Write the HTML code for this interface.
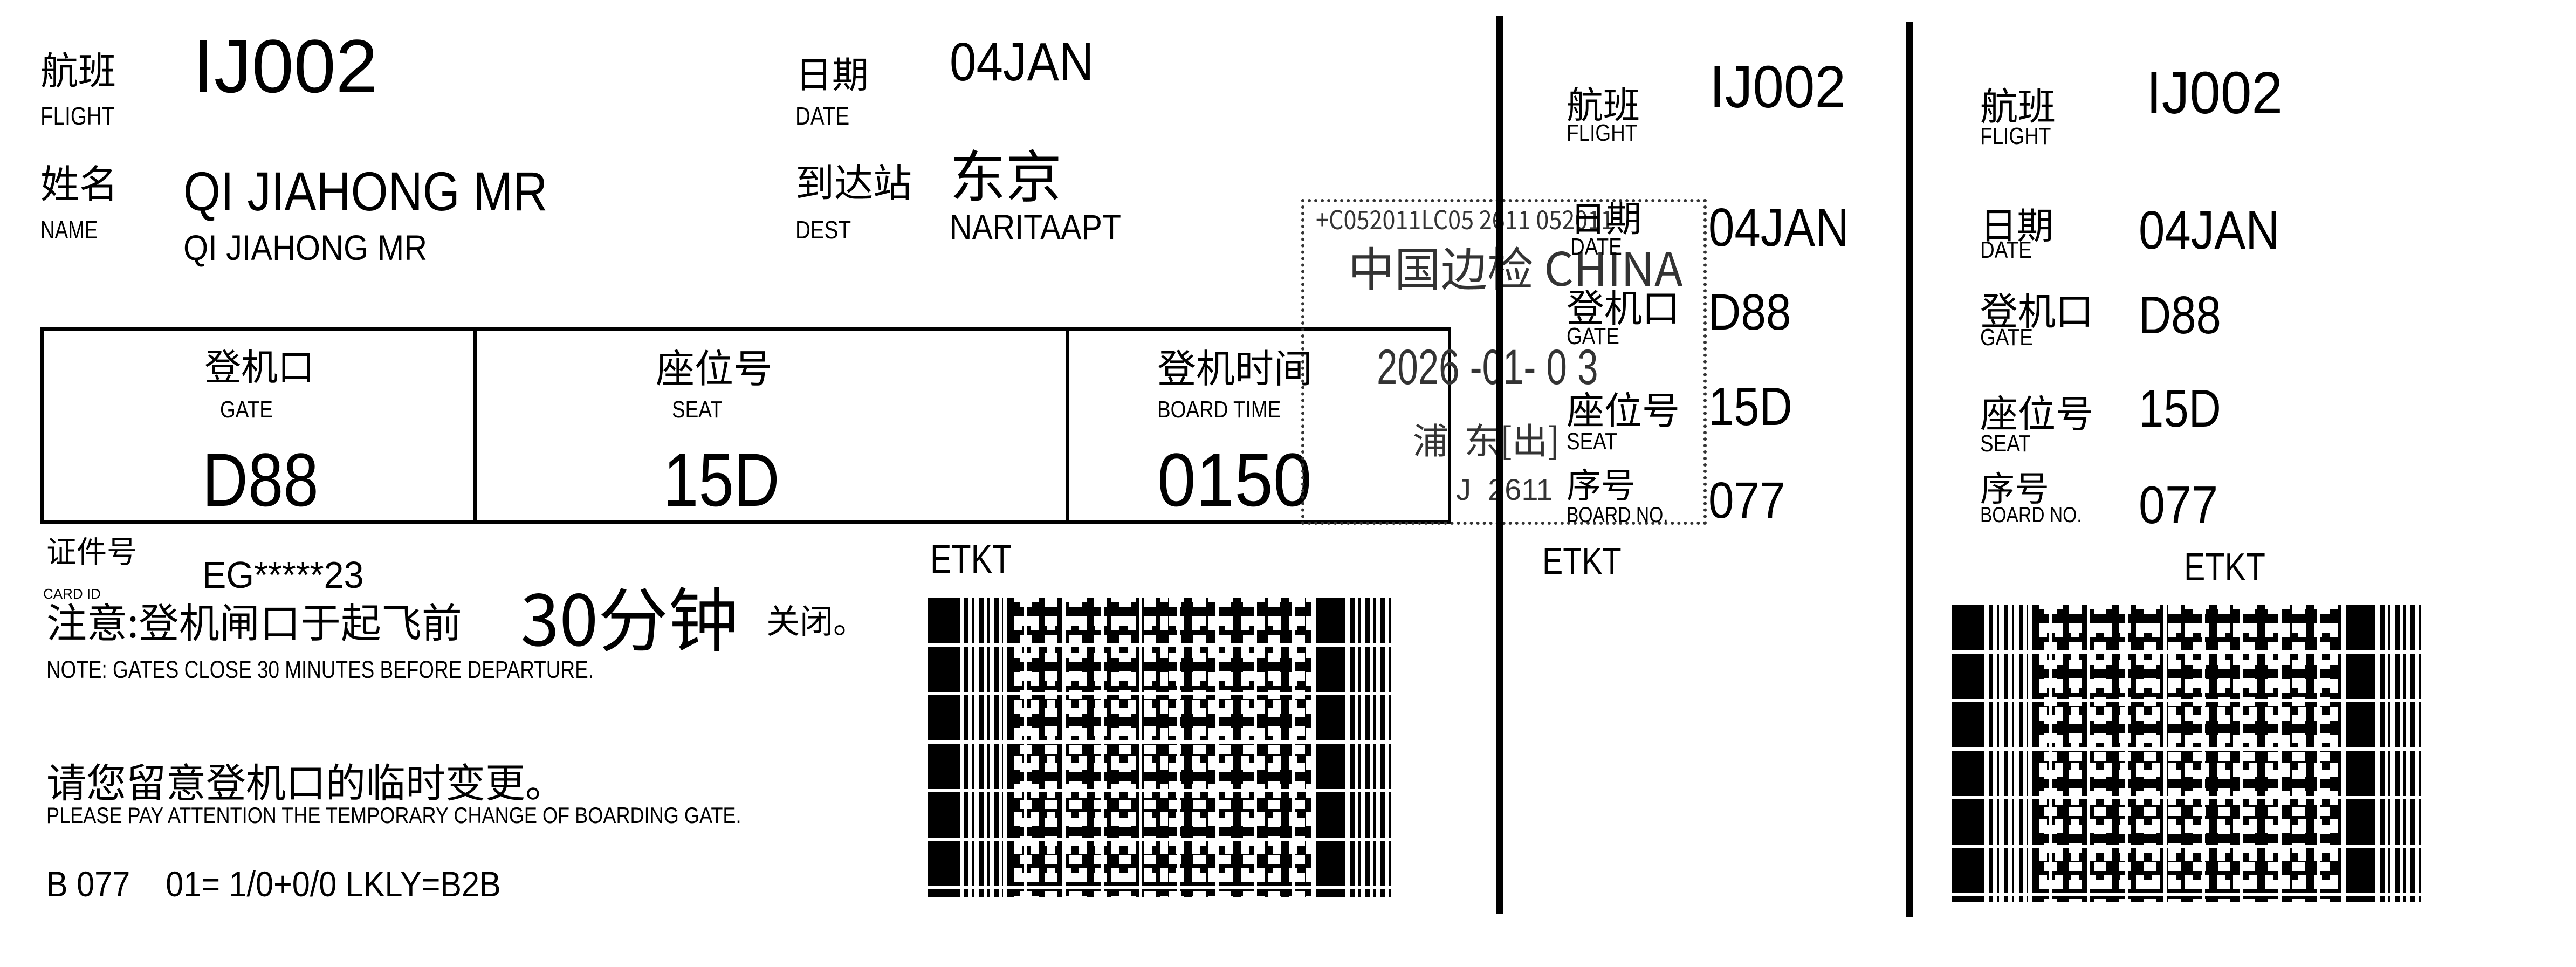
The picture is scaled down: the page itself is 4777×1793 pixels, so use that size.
<!DOCTYPE html>
<html><head><meta charset="utf-8">
<style>
html,body{margin:0;padding:0;background:#fff;}
body{width:4777px;height:1793px;position:relative;overflow:hidden;font-family:"Liberation Sans","Noto Sans CJK SC",sans-serif;color:#000;}
.t{position:absolute;line-height:1;white-space:pre;transform-origin:0 0;}
.c{font-family:"Noto Sans CJK SC","WenQuanYi Zen Hei",sans-serif;}
.box{position:absolute;left:75px;top:607px;width:2604px;height:352px;border:6px solid #000;}
.vl{position:absolute;background:#000;}
.bc{position:absolute;width:864px;height:554px;overflow:hidden;background:#fff;}
.bc div{position:absolute;top:0;bottom:0;}
.bc .k{background:#000;}
.bc .th{background:repeating-linear-gradient(90deg,#000 0 8px,#fff 8px 15px,#000 15px 19px,#fff 19px 28px);}
.bc .d{background-color:#000;
background-image:
 conic-gradient(#fff 0 25%,transparent 0),
 conic-gradient(transparent 0 50%,#fff 50% 75%,transparent 0),
 repeating-linear-gradient(90deg,transparent 0 31px,#fff 31px 37px,transparent 37px 71px);
background-size:46px 34px,30px 52px,auto;
background-position:0 0,13px 7px,0 0;}
.bc .rs{left:0;right:0;background:repeating-linear-gradient(180deg,transparent 0 84px,#fff 84px 90px);}
.stamp{position:absolute;left:2413px;top:369px;width:740px;height:592px;border:6px dotted #333;}
.g{color:#333;}
</style></head><body>

<!-- main ticket -->
<div class="t c" style="left:75px;top:92px;font-size:70px;">航班</div>
<div class="t" style="left:75px;top:192px;font-size:46px;transform:scaleX(.84)">FLIGHT</div>
<div class="t" style="left:358px;top:53px;font-size:140px;">IJ002</div>
<div class="t c" style="left:1475px;top:100px;font-size:68px;">日期</div>
<div class="t" style="left:1475px;top:192px;font-size:46px;transform:scaleX(.84)">DATE</div>
<div class="t" style="left:1761px;top:65px;font-size:100px;transform:scaleX(.89)">04JAN</div>

<div class="t c" style="left:75px;top:300px;font-size:72px;">姓名</div>
<div class="t" style="left:75px;top:403px;font-size:46px;transform:scaleX(.8)">NAME</div>
<div class="t" style="left:340px;top:304px;font-size:102px;transform:scaleX(.87)">QI JIAHONG MR</div>
<div class="t" style="left:340px;top:426px;font-size:66px;transform:scaleX(.9)">QI JIAHONG MR</div>
<div class="t c" style="left:1475px;top:298px;font-size:72px;">到达站</div>
<div class="t" style="left:1475px;top:403px;font-size:46px;transform:scaleX(.84)">DEST</div>
<div class="t c" style="left:1761px;top:268px;font-size:104px;">东京</div>
<div class="t" style="left:1761px;top:388px;font-size:66px;transform:scaleX(.87)">NARITAAPT</div>

<div class="box"></div>
<div class="vl" style="left:878px;top:607px;width:7px;height:364px;"></div>
<div class="vl" style="left:1976px;top:607px;width:7px;height:364px;"></div>
<div class="t c" style="left:379px;top:642px;font-size:68px;">登机口</div>
<div class="t" style="left:408px;top:738px;font-size:44px;transform:scaleX(.84)">GATE</div>
<div class="t" style="left:375px;top:820px;font-size:140px;transform:scaleX(.84)">D88</div>
<div class="t c" style="left:1216px;top:642px;font-size:72px;">座位号</div>
<div class="t" style="left:1246px;top:738px;font-size:44px;transform:scaleX(.84)">SEAT</div>
<div class="t" style="left:1230px;top:820px;font-size:140px;transform:scaleX(.84)">15D</div>
<div class="t c" style="left:2146px;top:642px;font-size:72px;">登机时间</div>
<div class="t" style="left:2146px;top:738px;font-size:44px;transform:scaleX(.84)">BOARD TIME</div>
<div class="t" style="left:2146px;top:820px;font-size:140px;transform:scaleX(.92)">0150</div>

<div class="t c" style="left:86px;top:992px;font-size:56px;">证件号</div>
<div class="t" style="left:80px;top:1088px;font-size:26px;">CARD ID</div>
<div class="t" style="left:375px;top:1031px;font-size:70px;transform:scaleX(.95)">EG*****23</div>
<div class="t c" style="left:86px;top:1112px;font-size:75px;">注意:登机闸口于起飞前</div>
<div class="t c" style="left:965px;top:1076px;font-size:130px;">30分钟</div>
<div class="t c" style="left:1421px;top:1116px;font-size:62px;">关闭。</div>
<div class="t" style="left:86px;top:1219px;font-size:45px;transform:scaleX(.82)">NOTE: GATES CLOSE 30 MINUTES BEFORE DEPARTURE.</div>
<div class="t c" style="left:86px;top:1410px;font-size:74px;">请您留意登机口的临时变更。</div>
<div class="t" style="left:86px;top:1491px;font-size:42px;transform:scaleX(.86)">PLEASE PAY ATTENTION THE TEMPORARY CHANGE OF BOARDING GATE.</div>
<div class="t" style="left:86px;top:1606px;font-size:66px;transform:scaleX(.9)">B 077    01= 1/0+0/0 LKLY=B2B</div>

<div class="t" style="left:1725px;top:1000px;font-size:74px;transform:scaleX(.8)">ETKT</div>
<div class="bc" style="left:1720px;top:1109px;">
  <div class="k" style="left:0;width:60px"></div>
  <div class="th" style="left:68px;width:72px"></div>
  <div class="d" style="left:148px;width:564px"></div>
  <div class="k" style="left:721px;width:53px"></div>
  <div class="th" style="left:784px;width:80px"></div>
  <div class="rs"></div>
</div>

<!-- stamp -->
<div class="stamp"></div>
<div class="t c g" style="left:2440px;top:380px;font-size:48px;transform:scaleX(.9)">+C052011LC05 2611 052011</div>
<div class="t c g" style="left:2500px;top:450px;font-size:86px;">中国边检 CHINA</div>
<div class="t g" style="left:2553px;top:635px;font-size:92px;transform:scaleX(.75)">2026 -01- 0 3</div>
<div class="t c g" style="left:2620px;top:780px;font-size:66px;">浦  东[出]</div>
<div class="t g" style="left:2700px;top:880px;font-size:56px;">J  2611</div>

<!-- perforation lines -->
<div class="vl" style="left:2774px;top:29px;width:13px;height:1666px;"></div>
<div class="vl" style="left:3534px;top:40px;width:13px;height:1660px;"></div>

<!-- stub 1 -->
<div class="t c" style="left:2905px;top:156px;font-size:68px;">航班</div>
<div class="t" style="left:2905px;top:225px;font-size:44px;transform:scaleX(.84)">FLIGHT</div>
<div class="t" style="left:3170px;top:107px;font-size:110px;transform:scaleX(.94)">IJ002</div>
<div class="t c" style="left:2912px;top:368px;font-size:66px;">日期</div>
<div class="t" style="left:2912px;top:436px;font-size:44px;transform:scaleX(.84)">DATE</div>
<div class="t" style="left:3168px;top:372px;font-size:100px;transform:scaleX(.87)">04JAN</div>
<div class="t c" style="left:2905px;top:532px;font-size:70px;">登机口</div>
<div class="t" style="left:2905px;top:602px;font-size:44px;transform:scaleX(.84)">GATE</div>
<div class="t" style="left:3168px;top:532px;font-size:95px;transform:scaleX(.88)">D88</div>
<div class="t c" style="left:2905px;top:722px;font-size:70px;">座位号</div>
<div class="t" style="left:2905px;top:797px;font-size:44px;transform:scaleX(.84)">SEAT</div>
<div class="t" style="left:3168px;top:704px;font-size:100px;transform:scaleX(.85)">15D</div>
<div class="t c" style="left:2905px;top:864px;font-size:64px;">序号</div>
<div class="t" style="left:2905px;top:935px;font-size:40px;transform:scaleX(.84)">BOARD NO.</div>
<div class="t" style="left:3168px;top:881px;font-size:95px;transform:scaleX(.9)">077</div>
<div class="t" style="left:2860px;top:1005px;font-size:70px;transform:scaleX(.82)">ETKT</div>

<!-- stub 2 -->
<div class="t c" style="left:3672px;top:158px;font-size:70px;">航班</div>
<div class="t" style="left:3672px;top:231px;font-size:44px;transform:scaleX(.84)">FLIGHT</div>
<div class="t" style="left:3980px;top:118px;font-size:110px;transform:scaleX(.94)">IJ002</div>
<div class="t c" style="left:3672px;top:380px;font-size:68px;">日期</div>
<div class="t" style="left:3672px;top:442px;font-size:44px;transform:scaleX(.84)">DATE</div>
<div class="t" style="left:3966px;top:377px;font-size:100px;transform:scaleX(.87)">04JAN</div>
<div class="t c" style="left:3672px;top:538px;font-size:70px;">登机口</div>
<div class="t" style="left:3672px;top:604px;font-size:44px;transform:scaleX(.84)">GATE</div>
<div class="t" style="left:3966px;top:535px;font-size:98px;transform:scaleX(.85)">D88</div>
<div class="t c" style="left:3672px;top:728px;font-size:70px;">座位号</div>
<div class="t" style="left:3672px;top:801px;font-size:44px;transform:scaleX(.84)">SEAT</div>
<div class="t" style="left:3966px;top:708px;font-size:98px;transform:scaleX(.85)">15D</div>
<div class="t c" style="left:3672px;top:870px;font-size:64px;">序号</div>
<div class="t" style="left:3672px;top:935px;font-size:40px;transform:scaleX(.84)">BOARD NO.</div>
<div class="t" style="left:3966px;top:887px;font-size:98px;transform:scaleX(.9)">077</div>
<div class="t" style="left:4050px;top:1016px;font-size:72px;transform:scaleX(.82)">ETKT</div>
<div class="bc" style="left:3620px;top:1122px;width:874px;height:550px;">
  <div class="k" style="left:0;width:60px"></div>
  <div class="th" style="left:68px;width:72px"></div>
  <div class="d" style="left:148px;width:574px"></div>
  <div class="k" style="left:731px;width:53px"></div>
  <div class="th" style="left:794px;width:80px"></div>
  <div class="rs"></div>
</div>

</body></html>
